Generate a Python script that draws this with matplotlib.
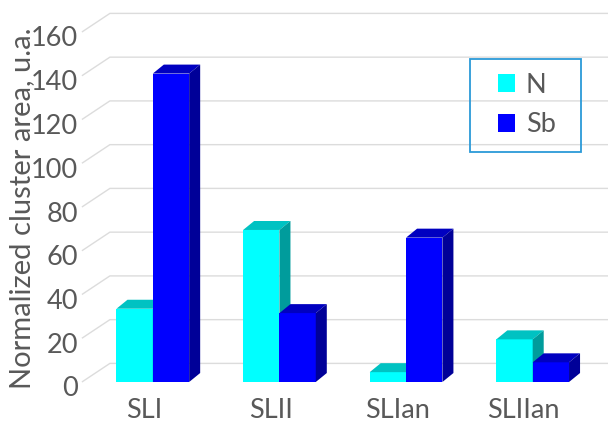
import matplotlib
matplotlib.use("Agg")
import matplotlib.pyplot as plt
import matplotlib.transforms as mtransforms
from matplotlib.patches import Polygon, Patch, Rectangle

categories = ["SLI", "SLII", "SLIan", "SLIIan"]
n_values = [33.5, 69.5, 4.5, 19.5]
sb_values = [141, 31.5, 66, 9]
series_names = ["N", "Sb"]
y_ticks = [0, 20, 40, 60, 80, 100, 120, 140, 160]
y_label = "Normalized cluster area, u.a."

FONT = ["Lato", "DejaVu Sans"]
TEXT_COLOR = "#595959"
GRID_COLOR = "#dcdcdc"

# front, top and side shades for each series
shades = {
    "N": ("#00ffff", "#00c2c2", "#009c9c"),
    "Sb": ("#0000ff", "#0000c0", "#000098"),
}

fig = plt.figure(figsize=(6.08, 4.21), dpi=100)
ax = fig.add_axes([89.5 / 608, 39 / 421, 506.5 / 608, 350 / 421])
ax.set_xlim(-0.5, 3.5)
ax.set_ylim(0, 160)
ax.axis("off")

bar_w = 0.287
bar_dx, bar_dy = 0.087, 4.1      # depth of each bar
wall_dx, wall_dy = 0.221, 8.5    # depth of the back wall
front_x = -0.56
right_x = 3.6

# gridlines: short diagonal on the side wall, then across the back wall
for v in y_ticks:
    ax.plot([front_x, front_x + wall_dx, right_x], [v, v + wall_dy, v + wall_dy],
            color=GRID_COLOR, lw=1.0, clip_on=False, zorder=1, solid_capstyle="butt")

label_shift = mtransforms.offset_copy(ax.transData, fig=fig, x=0, y=-7, units="dots")
for v in y_ticks:
    ax.text(-0.591, v, str(v), transform=label_shift, ha="right", va="center",
            fontsize=19.5, color=TEXT_COLOR, family=FONT)


def draw_bar_3d(x0, v, name, z):
    front, top, side = shades[name]
    ax.bar(x0, v, width=bar_w, align="edge", color=front, linewidth=0, zorder=z)
    top_pts = [(x0, v), (x0 + bar_w, v), (x0 + bar_w + bar_dx, v + bar_dy), (x0 + bar_dx, v + bar_dy)]
    side_pts = [(x0 + bar_w, 0), (x0 + bar_w + bar_dx, bar_dy),
                (x0 + bar_w + bar_dx, v + bar_dy), (x0 + bar_w, v)]
    ax.add_patch(Polygon(top_pts, closed=True, facecolor=top, edgecolor="none", zorder=z, clip_on=False))
    ax.add_patch(Polygon(side_pts, closed=True, facecolor=side, edgecolor="none", zorder=z, clip_on=False))


for i, cat in enumerate(categories):
    draw_bar_3d(i - bar_w, n_values[i], "N", 3)
    draw_bar_3d(i, sb_values[i], "Sb", 4)

cat_shift = mtransforms.offset_copy(ax.transData, fig=fig, x=0, y=-28, units="dots")
for i, cat in enumerate(categories):
    ax.text(i - 0.07, 0, cat, transform=cat_shift, ha="center", va="center",
            fontsize=19.5, color=TEXT_COLOR, family=FONT)

fig.text(22 / 608, 1 - 208 / 421, y_label, rotation=90, ha="center", va="center",
         fontsize=21, color=TEXT_COLOR, family=FONT)

# legend with its own outlined box
handles = [Patch(facecolor=shades[s][0], edgecolor="none") for s in series_names]
leg = fig.legend(handles, series_names, loc="center", bbox_to_anchor=(527 / 608, 1 - 105 / 421),
                 frameon=False, handlelength=0.62, handleheight=0.62, handletextpad=0.4,
                 labelspacing=0.55, prop={"family": FONT, "size": 19.5})
for t in leg.get_texts():
    t.set_color(TEXT_COLOR)
fig.patches.append(Rectangle((470 / 608, 1 - 152 / 421), 111 / 608, 93 / 421,
                             transform=fig.transFigure, fill=False,
                             edgecolor="#2b9ad8", linewidth=1.3))

fig.savefig("out.png", dpi=100)
